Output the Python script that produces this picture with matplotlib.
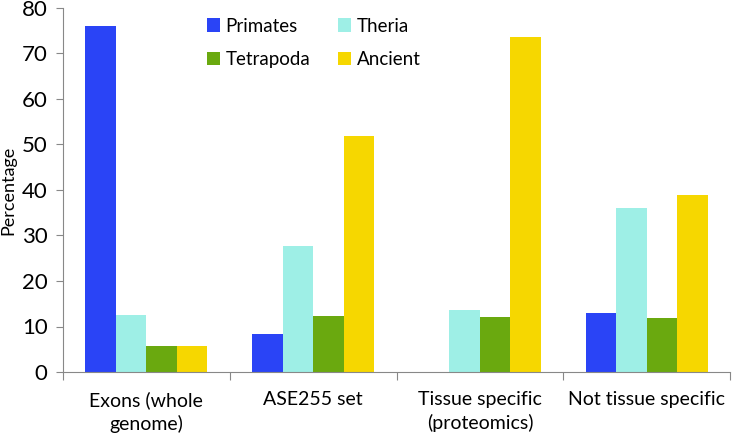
import matplotlib.pyplot as plt
import numpy as np

categories = ['Exons (whole\ngenome)', 'ASE255 set', 'Tissue specific\n(proteomics)', 'Not tissue specific']
series = ['Primates', 'Theria', 'Tetrapoda', 'Ancient']
primates = [76.0, 8.3, 0.0, 13.0]
theria = [12.6, 27.8, 13.6, 36.1]
tetrapoda = [5.7, 12.2, 12.0, 11.9]
ancient = [5.7, 51.8, 73.6, 38.8]
colors = ['#2a44f6', '#9eefe6', '#6aa90f', '#f6d700']


def main():
    plt.rcParams['font.family'] = ['Lato', 'DejaVu Sans']
    fig = plt.figure(figsize=(7.34, 4.34), dpi=100)
    ax = fig.add_axes([63 / 734, 1 - 372 / 434, (730 - 63) / 734, (372 - 8) / 434])

    x = np.arange(len(categories))
    w = 0.183
    values = [primates, theria, tetrapoda, ancient]
    bars = []
    for i, (name, vals) in enumerate(zip(series, values)):
        bars.append(ax.bar(x + (i - 1.5) * w, vals, width=w, color=colors[i], label=name))

    ax.set_xlim(-0.5, len(categories) - 0.5)
    ax.set_ylim(0, 80)
    ax.set_yticks(range(0, 81, 10))
    ax.tick_params(axis='y', labelsize=16, length=5, color='#888888', pad=6)

    # boundaries as ticks, labels at the centres
    ax.set_xticks(np.arange(-0.5, len(categories), 1.0))
    ax.set_xticklabels([])
    ax.set_xticks(x, minor=True)
    ax.set_xticklabels(categories, minor=True, fontsize=14, linespacing=1.35)
    ax.tick_params(axis='x', which='major', length=6, color='#888888')
    ax.tick_params(axis='x', which='minor', length=0, pad=14)

    for s in ['top', 'right']:
        ax.spines[s].set_visible(False)
    for s in ['left', 'bottom']:
        ax.spines[s].set_color('#888888')

    ax.set_ylabel('Percentage', fontsize=13, labelpad=4)
    # row-wise order: Primates, Theria / Tetrapoda, Ancient
    order = [0, 2, 1, 3]
    ax.legend([bars[k] for k in order], [series[k] for k in order],
              loc='upper left', bbox_to_anchor=(0.19, 1.02), ncol=2, frameon=False,
              fontsize=13.5, handlelength=0.7, handleheight=0.7, handletextpad=0.3,
              columnspacing=1.5, labelspacing=0.9)

    plt.savefig('out.png', dpi=100)
    plt.close()


if __name__ == "__main__":
    main()
